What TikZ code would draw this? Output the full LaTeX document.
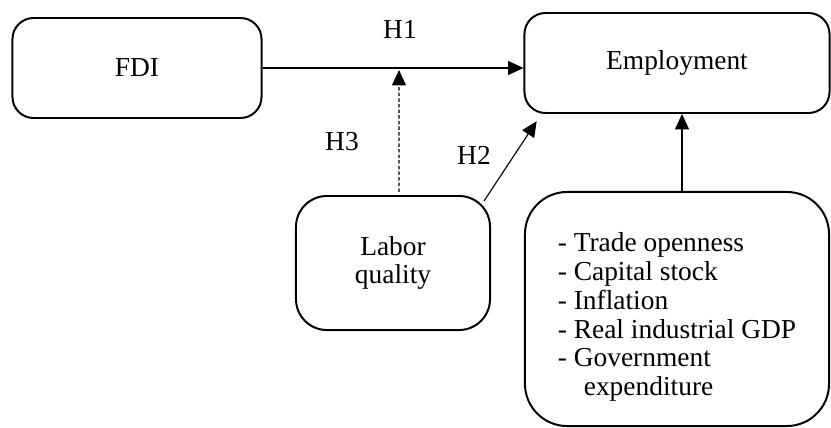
\documentclass[tikz,border=0pt]{standalone}
\usepackage{fontspec}
\setmainfont{Liberation Serif}
\usepackage{tikz}
\usetikzlibrary{arrows.meta, positioning, shapes.geometric}

\begin{document}
\begin{tikzpicture}[x=0.025cm, y=-0.025cm,
        box/.style={draw, rectangle, line width=1.4pt, align=center,
            font=\fontsize{19.5pt}{20.5pt}\selectfont},
        lbl/.style={font=\fontsize{19.5pt}{20.5pt}\selectfont},
        arrow/.style={-{Triangle[length=11pt, width=10pt]}, line width=0.8pt}]
        \useasboundingbox (0,0) rectangle (831,428);

        % Variables
        \node[box, rounded corners=15pt, minimum width=6.225cm, minimum height=2.5cm] (fdi) at (137,68) {FDI};
        \node[box, rounded corners=15pt, minimum width=7.625cm, minimum height=2.5cm] (employment) at (677,63) {Employment};
        \node[box, rounded corners=22pt, minimum width=4.85cm, minimum height=3.35cm] (labor) at (393,263) {Labor\\quality};

        % Control variables
        \node[box, rounded corners=30pt, minimum width=7.6cm, minimum height=5.85cm, align=left] (controls) at (677,309) {
            \rule{0pt}{25pt}- Trade openness\\
            - Capital stock\\
            - Inflation\\
            - Real industrial GDP\\
            - Government\\
            \hspace*{0.95em}expenditure
        };

        % Hypotheses
        \node[lbl] (h1) at (400,29) {H1};
        \node[lbl] (h3) at (342,142) {H3};
        \node[lbl] (h2) at (474,155) {H2};

        \coordinate (mod) at (399,70);

        % Relationships
        \draw[arrow] (fdi) -- (fdi -| employment.west);
        \draw[arrow, dash pattern=on 2.5pt off 1.5pt] ([xshift=0.15cm, yshift=0.08cm]labor.north) -- (mod);
        \draw[arrow] ([xshift=-0.175cm, yshift=-0.15cm]labor.north east) -- ([xshift=0.33cm, yshift=-0.18cm]employment.south west);
        \draw[arrow] ([xshift=0.125cm]controls.north) -- ([xshift=0.125cm]employment.south);
    \end{tikzpicture}
\end{document}
